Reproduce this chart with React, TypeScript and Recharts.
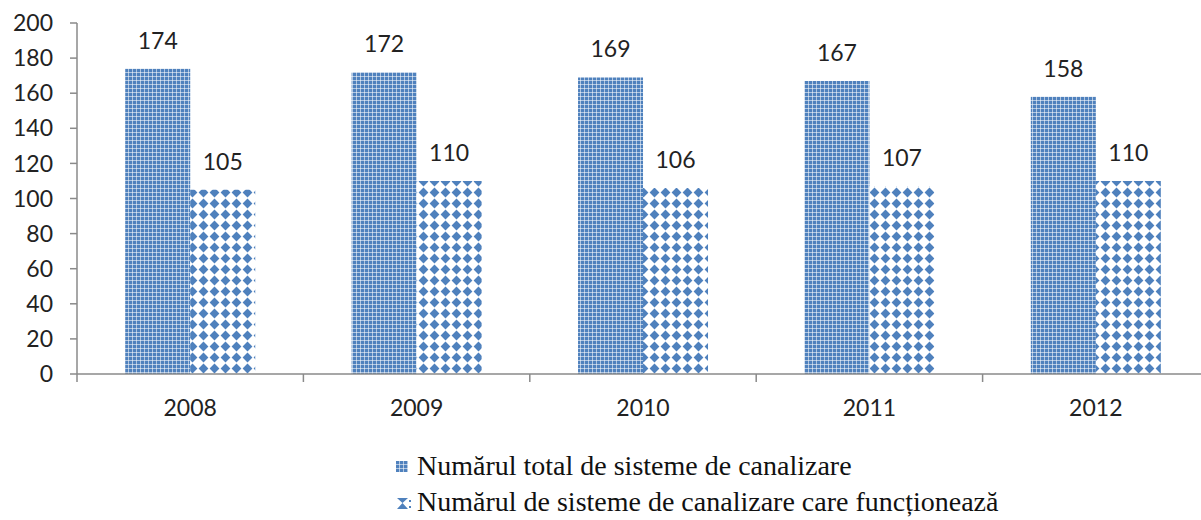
import React from "react";
import { BarChart, Bar, XAxis, YAxis, LabelList } from "recharts";

const years = ["2008", "2009", "2010", "2011", "2012"];
const totalSystems = [174, 172, 169, 167, 158];
const workingSystems = [105, 110, 106, 107, 110];
const yTicks = [0, 20, 40, 60, 80, 100, 120, 140, 160, 180, 200];
const seriesNames = [
  "Numărul total de sisteme de canalizare",
  "Numărul de sisteme de canalizare care funcționează",
];

const data = years.map((y, i) => ({ year: y, total: totalSystems[i], working: workingSystems[i] }));

const AXIS = "#8a8a8a";
const BLUE = "#4F81BD";
const NUM_FONT = "Lato, 'Open Sans', sans-serif";
const X_TICK = 8;
const X_MARGIN = 18;

const XTick = (props: any) => {
  const { x, y, payload } = props;
  const off = payload && payload.offset != null ? payload.offset : 0;
  const axisY = y - X_TICK - X_MARGIN;
  return (
    <g>
      <line x1={x - off} y1={axisY} x2={x - off} y2={axisY + X_TICK} stroke={AXIS} strokeWidth={1.5} />
      <text x={x} y={y} dy="0.71em" textAnchor="middle" fontSize={23} fontFamily={NUM_FONT} fill="#222">
        {payload.value}
      </text>
    </g>
  );
};

export default function App() {
  return (
    <div style={{ position: "absolute", left: 0, top: 0, width: 1201, height: 520, overflow: "hidden", background: "#fff" }}>
      <BarChart
        width={1215}
        height={520}
        data={data}
        margin={{ top: 23, right: 6, bottom: 0, left: 0 }}
        barCategoryGap="21.3%"
        barGap={0}
      >
        <defs>
          <pattern id="p1" width="4" height="4" patternUnits="userSpaceOnUse">
            <rect x="0" y="0" width="4" height="4" fill={BLUE} />
            <rect x="0" y="0" width="4" height="1" fill="#ffffff" fillOpacity={0.55} />
            <rect x="0" y="0" width="1" height="4" fill="#ffffff" fillOpacity={0.55} />
          </pattern>
          <pattern id="p2" width="11" height="11" patternUnits="userSpaceOnUse">
            <rect x="0" y="0" width="11" height="11" fill="#ffffff" />
            <polygon points="5.5,0.6 10.4,5.5 5.5,10.4 0.6,5.5" fill={BLUE} />
          </pattern>
        </defs>
        <XAxis
          dataKey="year"
          height={146}
          axisLine={{ stroke: AXIS, strokeWidth: 1.5 }}
          tickLine={false}
          tickSize={X_TICK}
          tickMargin={X_MARGIN}
          tick={<XTick />}
          interval={0}
        />
        <YAxis
          width={77}
          domain={[0, 200]}
          ticks={yTicks}
          interval={0}
          axisLine={{ stroke: AXIS, strokeWidth: 1.5 }}
          tickLine={{ stroke: AXIS, strokeWidth: 1.5 }}
          tickSize={7}
          tickMargin={17}
          tick={{ fontSize: 23, fontFamily: NUM_FONT, fill: "#222" }}
        />
        <Bar dataKey="total" name={seriesNames[0]} fill="url(#p1)" isAnimationActive={false}>
          <LabelList dataKey="total" position="top" offset={20} fontSize={23} fontFamily={NUM_FONT} fill="#222" />
        </Bar>
        <Bar dataKey="working" name={seriesNames[1]} fill="url(#p2)" isAnimationActive={false}>
          <LabelList dataKey="working" position="top" offset={20} fontSize={23} fontFamily={NUM_FONT} fill="#222" />
        </Bar>
      </BarChart>
      <div
        style={{
          position: "absolute",
          left: 395,
          top: 448,
          fontFamily: "'Liberation Serif', 'Times New Roman', serif",
          fontSize: 28,
          lineHeight: "36px",
          color: "#111",
          whiteSpace: "nowrap",
        }}
      >
        <div style={{ display: "flex", alignItems: "center" }}>
          <svg width={22} height={36} style={{ display: "block" }}>
            <rect x={1} y={13} width={12} height={11} fill="url(#p1)" />
          </svg>
          <span>{seriesNames[0]}</span>
        </div>
        <div style={{ display: "flex", alignItems: "center" }}>
          <svg width={22} height={36} style={{ display: "block" }}>
            <polygon points="2,14 13,14 7.5,19 13,25 2,25 7.5,19" fill={BLUE} />
            <rect x={14} y={16} width={2} height={2} fill={BLUE} />
            <rect x={14} y={22} width={2} height={2} fill={BLUE} />
          </svg>
          <span>{seriesNames[1]}</span>
        </div>
      </div>
    </div>
  );
}
